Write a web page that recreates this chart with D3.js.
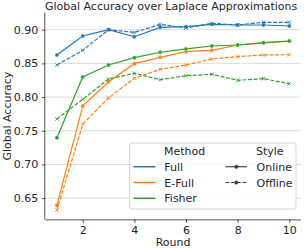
<!DOCTYPE html>
<html><head><meta charset="utf-8">
<script src="https://cdn.jsdelivr.net/npm/d3@7"></script>
<style>body{margin:0;background:#fff}svg{display:block}text{font-family:"DejaVu Sans",sans-serif;fill:#262626}</style>
</head><body><div id="chart"></div>
<script>
const rounds = [1,2,3,4,5,6,7,8,9,10];
const fullOnline    = [0.8625,0.8907,0.9000,0.8896,0.9035,0.9045,0.9080,0.9070,0.9070,0.9055];
const fullOffline   = [0.8476,0.8694,0.9000,0.8960,0.9080,0.9025,0.9095,0.9070,0.9110,0.9110];
const efullOnline   = [0.6394,0.7868,0.8228,0.8496,0.8590,0.8674,0.8694,0.8773,0.8802,0.8832];
const efullOffline  = [0.6324,0.7600,0.7987,0.8279,0.8412,0.8476,0.8565,0.8600,0.8625,0.8629];
const fisherOnline  = [0.7397,0.8298,0.8476,0.8585,0.8665,0.8714,0.8758,0.8773,0.8807,0.8832];
const fisherOffline = [0.7675,0.7967,0.8268,0.8353,0.8258,0.8317,0.8338,0.8249,0.8273,0.8199];
const methods = ["Full","E-Full","Fisher"];
const styles = ["Online","Offline"];
const colors = ["#1f77b4","#ff7f0e","#2ca02c"];
const yTicks = [0.65,0.70,0.75,0.80,0.85,0.90];
const xTicks = [2,4,6,8,10];

const series = [
  {m:0,s:0,v:fullOnline},{m:0,s:1,v:fullOffline},
  {m:1,s:0,v:efullOnline},{m:1,s:1,v:efullOffline},
  {m:2,s:0,v:fisherOnline},{m:2,s:1,v:fisherOffline}
];

const W=304,H=248;
const L=45.3,R=300.9,T=12.9,B=219.4;
const svg=d3.select("#chart").append("svg").attr("width",W).attr("height",H);
const allV=series.flatMap(d=>d.v);
const ymin=d3.min(allV),ymax=d3.max(allV),yr=ymax-ymin;
const x=d3.scaleLinear().domain([0.55,10.45]).range([L,R]);
const y=d3.scaleLinear().domain([ymin-0.05*yr,ymax+0.05*yr]).range([B,T]);

// grid
svg.append("g").selectAll("line").data(yTicks).join("line")
  .attr("x1",L).attr("x2",R).attr("y1",d=>y(d)).attr("y2",d=>y(d))
  .attr("stroke","#dcdcdc").attr("stroke-width",1);

// axes
const ya=svg.append("g").attr("transform",`translate(${L},0)`)
  .call(d3.axisLeft(y).tickValues(yTicks).tickFormat(d3.format(".2f")).tickSize(3.5).tickPadding(3.5));
const xa=svg.append("g").attr("transform",`translate(0,${B})`)
  .call(d3.axisBottom(x).tickValues(xTicks).tickFormat(d3.format("d")).tickSize(3.5).tickPadding(3.5));
[ya,xa].forEach(a=>{
  a.select(".domain").attr("stroke","#262626").attr("stroke-width",0.8);
  a.selectAll(".tick line").attr("stroke","#262626").attr("stroke-width",0.8);
  a.selectAll("text").attr("font-size",11).attr("fill","#262626").attr("font-family","DejaVu Sans");
});
xa.select(".domain").attr("d",`M${L},0.5H${R}`);
ya.select(".domain").attr("d",`M-0.5,${T}V${B}`);

// lines
const line=d3.line().x((d,i)=>x(rounds[i])).y(d=>y(d));
series.forEach(sr=>{
  const c=colors[sr.m];
  svg.append("path").attr("d",line(sr.v)).attr("fill","none").attr("stroke",c)
    .attr("stroke-width",1.2).attr("stroke-dasharray",sr.s?"4,1.6":null);
  const g=svg.append("g");
  sr.v.forEach((v,i)=>{
    const cx=x(rounds[i]),cy=y(v);
    if(sr.s===0){
      g.append("circle").attr("cx",cx).attr("cy",cy).attr("r",2).attr("fill",c).attr("stroke","#fff").attr("stroke-width",0.3);
    } else {
      const k=1.8;
      g.append("path").attr("d",`M${cx-k},${cy-k}L${cx+k},${cy+k}M${cx-k},${cy+k}L${cx+k},${cy-k}`)
        .attr("stroke",c).attr("stroke-width",0.8);
    }
  });
});

// title & labels
svg.append("text").attr("x",(L+R)/2-2).attr("y",10).attr("text-anchor","middle").attr("font-size",11).text("Global Accuracy over Laplace Approximations");
svg.append("text").attr("x",(L+R)/2).attr("y",246).attr("text-anchor","middle").attr("font-size",11).text("Round");
svg.append("text").attr("transform",`translate(11,${(T+B)/2}) rotate(-90)`).attr("text-anchor","middle").attr("font-size",11).text("Global Accuracy");

// legend
const lg=svg.append("g");
lg.append("rect").attr("x",129.5).attr("y",143).attr("width",166.5).attr("height",66).attr("rx",2.5)
  .attr("fill","#fff").attr("fill-opacity",0.8).attr("stroke","#cccccc").attr("stroke-width",0.8);
lg.append("text").attr("x",164).attr("y",154.5).attr("font-size",11).text("Method");
methods.forEach((m,i)=>{
  const cy=166.7+i*15.8;
  lg.append("line").attr("x1",133.5).attr("x2",155.5).attr("y1",cy).attr("y2",cy).attr("stroke",colors[i]).attr("stroke-width",1.5);
  lg.append("text").attr("x",164.3).attr("y",cy+4).attr("font-size",11).text(m);
});
lg.append("text").attr("x",256).attr("y",154.5).attr("font-size",11).text("Style");
styles.forEach((s,i)=>{
  const cy=166.7+i*15.8;
  lg.append("line").attr("x1",225.5).attr("x2",247).attr("y1",cy).attr("y2",cy).attr("stroke","#444")
    .attr("stroke-width",1.2).attr("stroke-dasharray",i?"4,1.6":null);
  lg.append("circle").attr("cx",236.3).attr("cy",cy).attr("r",2).attr("fill","#444");
  lg.append("text").attr("x",256.5).attr("y",cy+4).attr("font-size",11).text(s);
});
</script></body></html>
